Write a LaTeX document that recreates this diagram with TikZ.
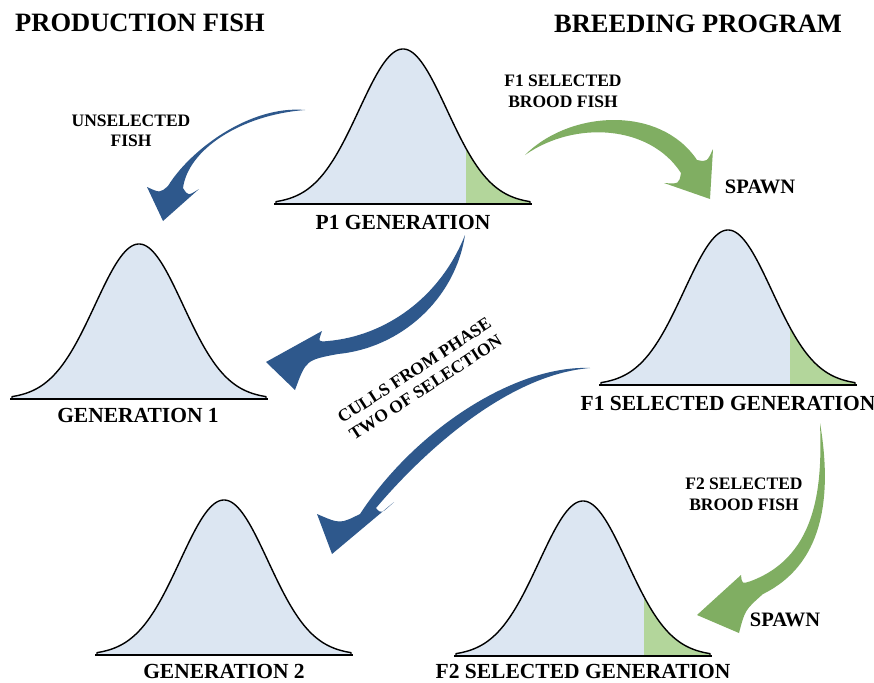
\documentclass[tikz,border=0pt]{standalone}
\usepackage{fontspec}
\setmainfont{Liberation Serif}
\definecolor{bellblue}{RGB}{220,230,242}
\definecolor{bellgreen}{RGB}{179,214,155}
\definecolor{arrowblue}{RGB}{46,88,140}
\definecolor{arrowgreen}{RGB}{128,174,98}
\tikzset{
  titletext/.style={font=\fontsize{26.5}{30}\selectfont\bfseries, inner sep=0pt},
  labtext/.style={font=\fontsize{21.5}{24}\selectfont\bfseries, inner sep=0pt},
  smalltext/.style={font=\fontsize{17.5}{20.5}\selectfont\bfseries, inner sep=0pt, align=center},
  spawntext/.style={font=\fontsize{20.5}{23}\selectfont\bfseries, inner sep=0pt},
  bluearrow/.style={fill=arrowblue},
  greenarrow/.style={fill=arrowgreen},
  bellline/.style={black, line width=1.4pt, line join=round},
  bellbase/.style={black, line width=2pt},
}
\newcommand{\bellFill}[2]{%
  \pgfmathsetmacro{\bellL}{#1-127}%
  \pgfmathsetmacro{\bellR}{#1+127}%
  \fill[bellblue] (\bellL,#2) -- plot[domain=\bellL:\bellR,samples=120] (\x,{#2-155*exp(-0.5*((\x-#1)/44)^2)}) -- (\bellR,#2) -- cycle;
}
\newcommand{\bellTail}[3]{%
  \pgfmathsetmacro{\bellR}{#1+127}%
  \fill[bellgreen] (#3,#2) -- plot[domain=#3:\bellR,samples=60] (\x,{#2-155*exp(-0.5*((\x-#1)/44)^2)}) -- (\bellR,#2) -- cycle;
}
\newcommand{\bellEdge}[2]{%
  \pgfmathsetmacro{\bellL}{#1-127}%
  \pgfmathsetmacro{\bellR}{#1+127}%
  \draw[bellline] (\bellL,#2) -- plot[domain=\bellL:\bellR,samples=120] (\x,{#2-155*exp(-0.5*((\x-#1)/44)^2)}) -- (\bellR,#2);
  \draw[bellbase] (\bellL-2,#2) -- (\bellR+2,#2);
}
\begin{document}
\begin{tikzpicture}[x=1pt,y=-1pt]
\useasboundingbox[fill=white] (0,0) rectangle (874,682);

% titles
\node[titletext] (pf) at (140,23) {PRODUCTION FISH};
\node[titletext] (bp) at (698,24) {BREEDING PROGRAM};

% bell curves
\bellFill{403}{204}\bellTail{403}{204}{466}\bellEdge{403}{204}
\bellFill{139}{399}\bellEdge{139}{399}
\bellFill{728}{385}\bellTail{728}{385}{790}\bellEdge{728}{385}
\bellFill{224}{655}\bellEdge{224}{655}
\bellFill{583}{656}\bellTail{583}{656}{644}\bellEdge{583}{656}

% labels
\node[labtext] (p1) at (403,222) {P1 GENERATION};
\node[labtext] (g1) at (138,415) {GENERATION 1};
\node[labtext] (f1) at (728,403) {F1 SELECTED GENERATION};
\node[labtext] (g2) at (224,671) {GENERATION 2};
\node[labtext] (f2) at (583,671) {F2 SELECTED GENERATION};

\node[smalltext] (uns) at (131,131) {UNSELECTED\\FISH};
\node[smalltext] (fb1) at (563,91.5) {F1 SELECTED\\BROOD FISH};
\node[smalltext] (fb2) at (744,494.5) {F2 SELECTED\\BROOD FISH};
\node[spawntext] (sp1) at (760,187) {SPAWN};
\node[spawntext] (sp2) at (785,620) {SPAWN};
\node[smalltext, rotate=33] (culls) at (420,379) {CULLS FROM PHASE\\TWO OF SELECTION};

% arrow 1: unselected fish
\fill[bluearrow] (305,110) .. controls (250,105) and (190,150) .. (168,186)
  .. controls (160,193) .. (147,187) -- (163,221) -- (199,189)
  .. controls (188,196) .. (183,188)
  .. controls (188,150) and (240,115) .. (305,110) -- cycle;
% arrow 2: F1 selected brood fish
\fill[greenarrow] (525,155) .. controls (570,110) and (660,105) .. (697,160)
  .. controls (707,162) .. (713,149) -- (710,199) -- (664,183)
  .. controls (679,184) .. (681,173)
  .. controls (650,125) and (575,120) .. (525,155) -- cycle;
% arrow 3: P1 to generation 1
\fill[bluearrow] (465,235) .. controls (455,300) and (400,348) .. (338,354)
  .. controls (306,360) .. (295,390) -- (266,362) -- (322,331)
  .. controls (318,342) .. (328,341)
  .. controls (385,336) and (440,298) .. (465,235) -- cycle;
% arrow 4: culls to generation 2
\fill[bluearrow] (590,368) .. controls (515,365) and (415,430) .. (360,514)
  .. controls (340,524) .. (317,514) -- (332,554) -- (394,502)
  .. controls (381,514) .. (376,508)
  .. controls (420,456) and (505,375) .. (590,368) -- cycle;
% arrow 5: F2 selected brood fish
\fill[greenarrow] (820,423) .. controls (833,500) and (822,565) .. (763,594)
  .. controls (745,610) .. (739,633) -- (697,615) -- (741,575)
  .. controls (742,584) .. (751,581)
  .. controls (820,555) and (822,480) .. (820,423) -- cycle;
\end{tikzpicture}
\end{document}
